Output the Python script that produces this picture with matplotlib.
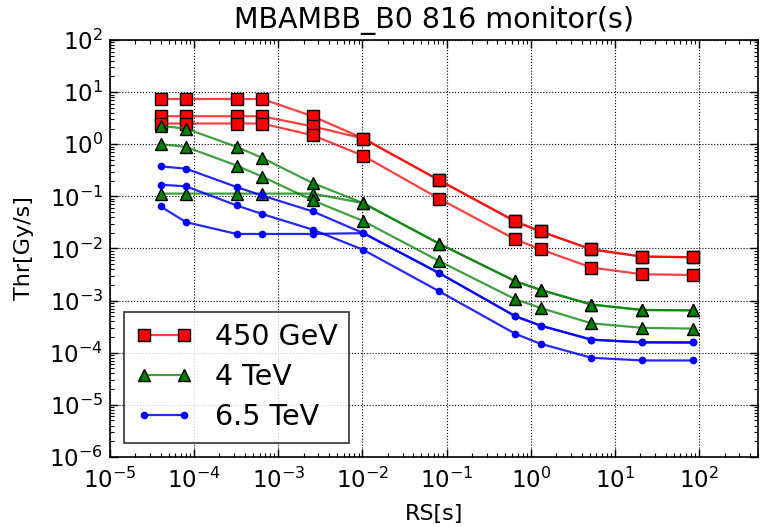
import matplotlib
matplotlib.use("Agg")
import matplotlib.pyplot as plt

# running sums [s]
rs = [4e-5, 8e-5, 3.2e-4, 6.4e-4, 2.56e-3, 1.024e-2, 8.192e-2, 0.655, 1.311, 5.243, 20.97, 83.89]

# 450 GeV thresholds [Gy/s]
thr_450_a = [7.4, 7.4, 7.4, 7.4, 3.45, 1.29, 0.203, 0.033, 0.0212, 0.0096, 0.0070, 0.0068]
thr_450_b = [3.45, 3.45, 3.45, 3.45, 2.2, 1.29, 0.203, 0.033, 0.0212, 0.0096, 0.0070, 0.0068]
thr_450_c = [2.5, 2.5, 2.5, 2.5, 1.49, 0.6, 0.090, 0.0149, 0.0096, 0.0043, 0.0032, 0.0031]

# 4 TeV
thr_4_a = [2.25, 2.0, 0.89, 0.55, 0.18, 0.074, 0.0123, 0.00235, 0.0016, 0.00084, 0.00066, 0.00065]
thr_4_b = [0.113, 0.113, 0.113, 0.113, 0.113, 0.074, 0.0123, 0.00235, 0.0016, 0.00084, 0.00066, 0.00065]
thr_4_c = [1.0, 0.89, 0.39, 0.24, 0.084, 0.0335, 0.0057, 0.00106, 0.00072, 0.000366, 0.0003, 0.00029]

# 6.5 TeV
thr_65_a = [0.377, 0.34, 0.151, 0.104, 0.0515, 0.0197, 0.00335, 0.0005, 0.00033, 0.000178, 0.000158, 0.000157]
thr_65_b = [0.064, 0.032, 0.019, 0.019, 0.019, 0.0197, 0.00335, 0.0005, 0.00033, 0.000178, 0.000158, 0.000157]
thr_65_c = [0.167, 0.156, 0.067, 0.046, 0.023, 0.0094, 0.0015, 0.00023, 0.000148, 0.00008, 0.000071, 0.000071]

groups = [
    ("450 GeV", [thr_450_a, thr_450_b, thr_450_c], (1, 0, 0, 0.75), "red", "s", 8.5, "black"),
    ("4 TeV", [thr_4_a, thr_4_b, thr_4_c], (0, 0.5, 0, 0.75), "green", "^", 9, "black"),
    ("6.5 TeV", [thr_65_a, thr_65_b, thr_65_c], (0, 0, 1, 0.85), "blue", "o", 4.5, "blue"),
]

plt.rcParams['font.family'] = ['DejaVu Sans']
plt.rcParams['xtick.direction'] = 'in'
plt.rcParams['ytick.direction'] = 'in'

fig = plt.figure(figsize=(7.69, 5.27), dpi=100)
ax = fig.add_axes([0.143, 0.133, 0.8427, 0.791])

for label, series, lcol, fcol, mk, ms, ecol in groups:
    for i, thr in enumerate(series):
        ax.plot(rs, thr, color=lcol, lw=1.6, marker=mk, ms=ms,
                markerfacecolor=fcol, markeredgecolor=ecol, markeredgewidth=1,
                label=label if i == 0 else None)

ax.set_xscale("log")
ax.set_yscale("log")
ax.set_xlim(1e-5, 500)
ax.set_ylim(1e-6, 1e2)

# 网格和刻度
ax.grid(True, which="major", color="black", linestyle=":", lw=0.8)
ax.tick_params(which="both", top=True, right=True, labelsize=16.5)
ax.tick_params(which="major", length=5.5, width=1)
ax.tick_params(which="minor", length=3, width=0.8)
ax.tick_params(axis="x", which="major", pad=8)
ax.tick_params(axis="y", which="major", pad=5)
for s in ax.spines.values():
    s.set_linewidth(1.2)

ax.set_title("MBAMBB_B0 816 monitor(s)", fontsize=20.5, pad=9)
ax.set_xlabel("RS[s]", fontsize=16, labelpad=8)
ax.set_ylabel("Thr[Gy/s]", fontsize=16, labelpad=11)

leg = ax.legend(loc="lower left", numpoints=2, fontsize=20.5, fancybox=False,
                handlelength=2.0, handletextpad=0.8, labelspacing=0.42,
                borderaxespad=0.5)
leg.get_frame().set_edgecolor("black")
leg.get_frame().set_linewidth(1.2)

fig.savefig("out.png", dpi=100)
